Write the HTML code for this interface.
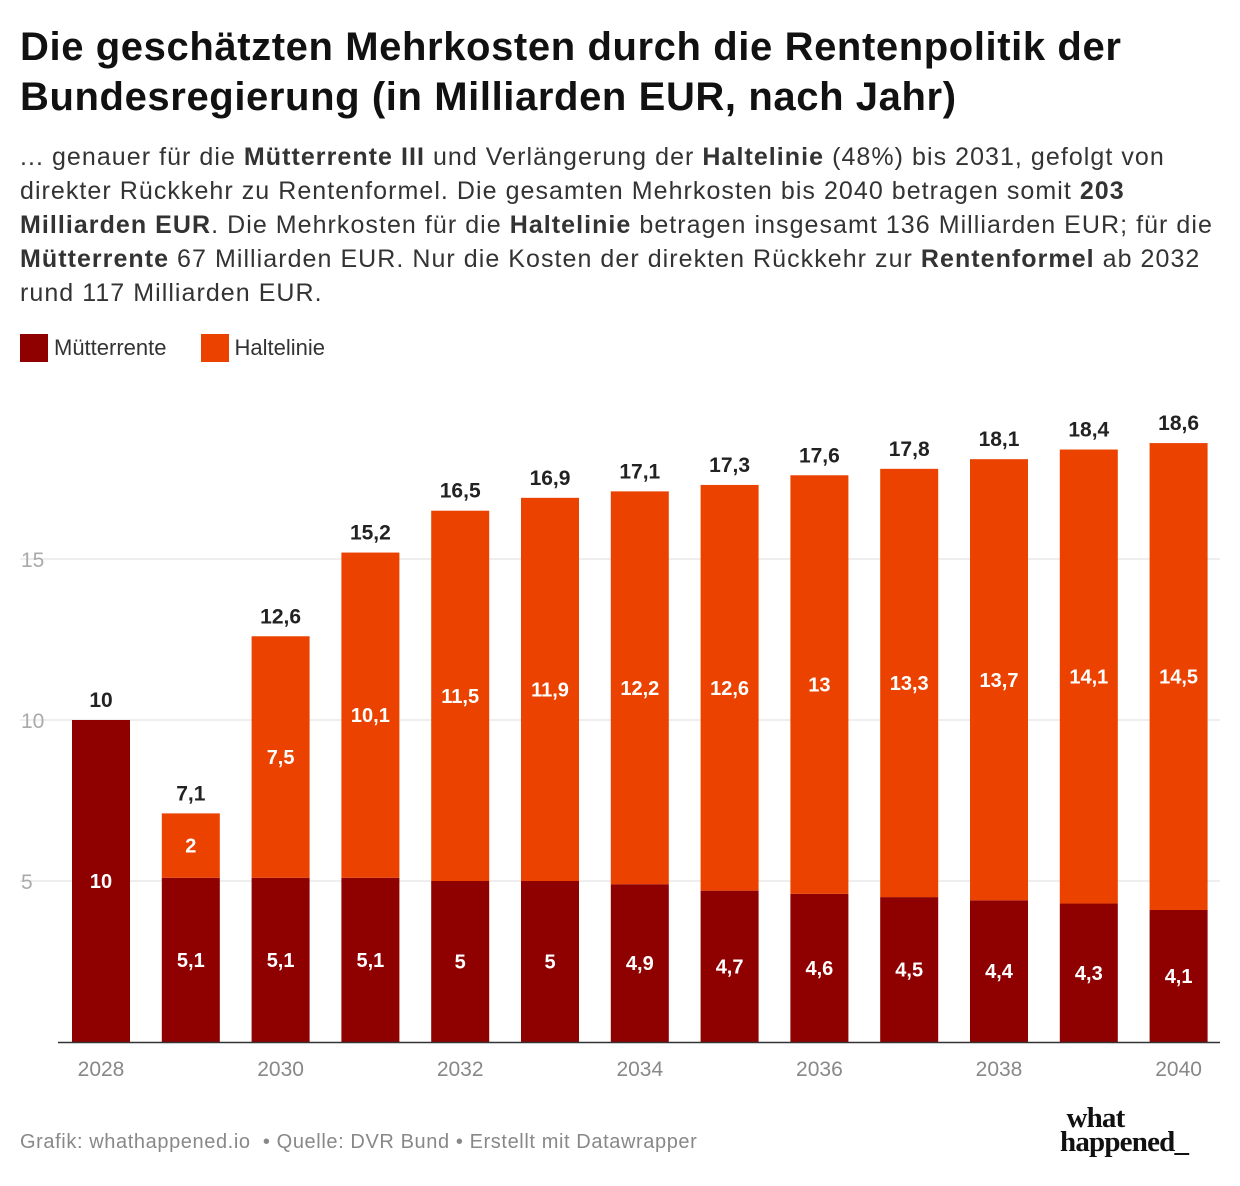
<!DOCTYPE html>
<html><head><meta charset="utf-8"><style>
body{margin:0;width:1240px;height:1186px;background:#fff;font-family:"Liberation Sans",sans-serif;color:#222;position:relative;overflow:hidden}
h1{position:absolute;left:20px;top:22px;margin:0;font-size:40px;line-height:50px;font-weight:bold;color:#111;letter-spacing:0.6px;white-space:nowrap}
.desc{position:absolute;left:20px;top:140px;font-size:25px;line-height:34px;color:#333;white-space:nowrap;letter-spacing:1.05px}
.legend{position:absolute;left:20px;top:334px;font-size:22px;color:#333;display:flex;gap:34px}
.legend span{display:inline-flex;align-items:center}
.legend i{display:inline-block;width:28px;height:28px;margin-right:6px}
.foot{position:absolute;left:20px;top:1131px;font-size:20px;color:#888;letter-spacing:0.6px}
.logo{position:absolute;left:1060px;top:1106px;font-family:"Liberation Serif",serif;font-weight:bold;font-size:29px;line-height:24px;color:#111;letter-spacing:-0.8px}
</style></head><body>
<h1>Die geschätzten Mehrkosten durch die Rentenpolitik der<br>Bundesregierung (in Milliarden EUR, nach Jahr)</h1>
<div class="desc">... genauer für die <b>Mütterrente III</b> und Verlängerung der <b>Haltelinie</b> (48%) bis 2031, gefolgt von<br>direkter Rückkehr zu Rentenformel. Die gesamten Mehrkosten bis 2040 betragen somit <b>203</b><br><b>Milliarden EUR</b>. Die Mehrkosten für die <b>Haltelinie</b> betragen insgesamt 136 Milliarden EUR; für die<br><b>Mütterrente</b> 67 Milliarden EUR. Nur die Kosten der direkten Rückkehr zur <b>Rentenformel</b> ab 2032<br>rund 117 Milliarden EUR.</div>
<div class="legend">
<span><i style="background:#8f0000"></i>Mütterrente</span>
<span><i style="background:#eb4200"></i>Haltelinie</span>
</div>
<svg id="chart" width="1240" height="1186" style="position:absolute;left:0;top:0"></svg>
<div class="foot">Grafik: whathappened.io &nbsp;• Quelle: DVR Bund • Erstellt mit Datawrapper</div>
<div class="logo">&nbsp;what<br>happened_</div>
<script>
const years=[2028,2029,2030,2031,2032,2033,2034,2035,2036,2037,2038,2039,2040];
const mutter=[10,5.1,5.1,5.1,5,5,4.9,4.7,4.6,4.5,4.4,4.3,4.1];
const halte=[0,2,7.5,10.1,11.5,11.9,12.2,12.6,13,13.3,13.7,14.1,14.5];
const totals=[10,7.1,12.6,15.2,16.5,16.9,17.1,17.3,17.6,17.8,18.1,18.4,18.6];
const yTicks=[5,10,15];
const svg=document.getElementById('chart');
const NS='http://www.w3.org/2000/svg';
const y=v=>1042-v*32.2;
const xc=i=>101+i*89.8;
const bw=58;
const fmt=v=>String(v).replace('.',',');
function mk(t,a){const e=document.createElementNS(NS,t);for(const k in a)e.setAttribute(k,a[k]);svg.appendChild(e);return e;}
yTicks.forEach(t=>{
const l=mk('line',{x1:20,x2:1220,y1:y(t),y2:y(t),stroke:'#ddd','stroke-width':1});


const tx=mk('text',{x:21,y:y(t)+8,'font-size':21,fill:'#aaa','font-family':'Liberation Sans'});
tx.textContent=t;


});
years.forEach((yr,i)=>{
const x=xc(i)-bw/2;
const r1=mk('rect',{x:x,y:y(mutter[i]),width:bw,height:y(0)-y(mutter[i]),fill:'#8f0000'});


if(halte[i]>0){
const r2=mk('rect',{x:x,y:y(mutter[i]+halte[i]),width:bw,height:y(mutter[i])-y(mutter[i]+halte[i]),fill:'#eb4200'});


const t2=mk('text',{x:xc(i),y:y(mutter[i]+halte[i]/2)+7,'text-anchor':'middle','font-size':20,'font-weight':'bold',fill:'#fff','font-family':'Liberation Sans'});
t2.textContent=fmt(halte[i]);


}
const t1=mk('text',{x:xc(i),y:(i==0?y(5)+7:y(mutter[i]/2)+7),'text-anchor':'middle','font-size':20,'font-weight':'bold',fill:'#fff','font-family':'Liberation Sans'});
t1.textContent=fmt(mutter[i]);


const tt=mk('text',{x:xc(i),y:y(totals[i])-13,'text-anchor':'middle','font-size':21,'font-weight':'bold',fill:'#222','font-family':'Liberation Sans'});
tt.textContent=fmt(totals[i]);


if(i%2==0){
const xl=mk('text',{x:xc(i),y:1076,'text-anchor':'middle','font-size':21,fill:'#888','font-family':'Liberation Sans'});
xl.textContent=yr;


}
});
const ax=mk('line',{x1:58,x2:1220,y1:1042.5,y2:1042.5,stroke:'#333','stroke-width':1.5});


</script>
</body></html>
